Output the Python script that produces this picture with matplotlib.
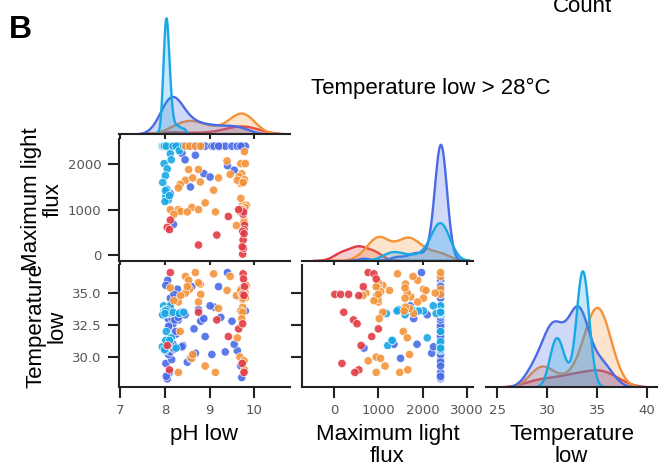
import matplotlib
matplotlib.use("Agg")
import matplotlib.pyplot as plt
import numpy as np
import pandas as pd
import seaborn as sns

# ---- data ----
groups = ["cyan", "blue", "orange", "red"]
colors = ["#1aa8e4", "#4a6be6", "#f4943a", "#e23c45"]

ph_cyan = [8.00, 8.03, 8.05, 7.96, 8.01, 8.04, 8.08, 7.98, 8.02, 8.10, 7.94, 8.01, 8.06,
           8.00, 8.05, 8.02, 7.97, 8.09, 7.99, 8.03, 8.12, 7.98, 8.05, 8.01, 7.95, 8.04,
           8.02, 8.07, 8.01, 8.00, 8.18, 8.25, 8.32, 8.14, 8.42, 8.10]
flux_cyan = [2400, 2400, 2390, 2410, 2400, 2400, 2395, 2405, 2400, 2400, 2400, 2410, 2390,
             2400, 2400, 2405, 2400, 2395, 2400, 2400, 2235, 2015, 1900, 1750, 1600, 1450,
             1300, 1210, 1420, 1180, 2400, 2400, 2300, 2100, 2400, 1310]
temp_cyan = [33.5, 33.4, 33.6, 33.3, 33.7, 33.5, 33.4, 33.6, 33.5, 33.4, 30.8, 30.6, 31.0,
             30.5, 31.2, 33.5, 34.0, 33.5, 30.6, 32.0, 34.0, 33.6, 33.6, 33.7, 33.3, 33.7,
             31.3, 30.9, 33.6, 33.4, 33.5, 30.7, 33.4, 31.5, 33.5, 31.3]

ph_blue = [8.05, 8.10, 8.02, 8.15, 8.08, 8.12, 8.20, 8.06, 8.18, 8.03, 8.25, 8.10, 8.14,
           8.07, 8.22, 8.04, 8.16, 8.30, 8.09, 8.12, 8.28, 8.06, 9.25, 9.35, 9.50, 9.62,
           9.72, 9.80, 8.40, 8.65, 8.90, 9.05, 8.35, 8.50, 8.80, 8.18, 8.02, 9.10, 8.60,
           8.24, 8.68, 8.87, 8.57, 9.01, 8.38, 8.19, 8.05, 8.12, 8.08, 8.20, 8.15, 8.03,
           8.22, 9.40, 9.20, 8.30, 9.55, 9.70, 8.45, 8.75]
flux_blue = [2400, 2400, 2400, 2400, 2400, 2400, 2400, 2400, 2400, 2400, 2400, 2400, 2400,
             2400, 2400, 2400, 2400, 2400, 2400, 2400, 2400, 2400, 2400, 2400, 2400, 2400,
             2400, 2400, 2400, 2400, 2400, 2400, 2400, 2400, 2400, 2400, 2400, 2400, 2400,
             2400, 2200, 1795, 1500, 1720, 2240, 675, 2400, 1350, 2400, 2400, 2400, 2400,
             2400, 1970, 2400, 2400, 1870, 2400, 2100, 2400]
temp_blue = [28.3, 28.8, 29.5, 29.8, 30.2, 30.4, 30.6, 30.8, 31.0, 31.3, 31.8, 32.3, 32.7,
             33.0, 33.2, 33.4, 33.0, 32.9, 34.0, 34.6, 35.3, 36.0, 33.1, 30.4, 32.8, 30.5,
             28.4, 33.6, 30.9, 32.2, 31.6, 30.2, 33.5, 29.6, 32.8, 32.6, 35.6, 33.9, 35.5,
             32.0, 30.3, 33.0, 29.9, 34.0, 30.8, 30.7, 33.6, 31.0, 32.4, 34.9, 33.4, 28.5,
             32.9, 36.6, 35.5, 33.1, 31.0, 29.3, 33.3, 33.7]

ph_orange = [8.46, 8.55, 8.68, 8.80, 9.78, 9.70, 9.39, 9.80, 8.53, 8.75, 9.46, 9.72, 9.66,
             9.20, 8.46, 8.79, 9.74, 9.78, 8.34, 9.82, 9.70, 8.30, 9.09, 9.68, 9.62, 8.60,
             9.75, 8.75, 8.12, 9.74, 8.30, 9.13, 8.35, 9.74, 9.77, 9.77, 8.20, 9.60, 9.79,
             9.72, 9.72, 8.50, 9.75, 8.90, 9.70, 8.62]
flux_orange = [2400, 2400, 2400, 2400, 2280, 2015, 2073, 2015, 1884, 1884, 1780, 1790, 1730,
               1700, 1648, 1611, 1611, 1660, 1560, 1100, 1580, 1480, 1430, 950, 1650, 1050,
               1600, 1000, 1000, 1100, 1000, 950, 960, 990, 770, 720, 900, 650, 1050, 1020,
               1000, 950, 1600, 1150, 1250, 1700]
temp_orange = [36.3, 35.3, 36.6, 34.9, 35.0, 35.3, 35.2, 34.6, 36.0, 34.3, 36.3, 33.4, 34.7,
               33.8, 35.0, 35.7, 33.9, 29.0, 32.0, 35.6, 33.6, 28.8, 36.5, 30.0, 31.5, 29.9,
               35.4, 35.8, 35.4, 33.5, 34.3, 28.8, 34.8, 34.5, 29.7, 35.0, 34.4, 34.8, 35.1,
               33.0, 34.9, 35.5, 34.6, 29.3, 35.2, 30.2]

ph_red = [8.12, 9.75, 9.76, 9.78, 9.74, 9.76, 9.75, 9.77, 8.75, 9.16, 9.65, 9.42, 8.05,
          9.74, 9.73, 8.10, 9.77]
flux_red = [770, 900, 950, 660, 20, 150, 330, 560, 220, 440, 1000, 850, 610, 520, 180, 560, 470]
temp_red = [36.6, 36.5, 36.1, 35.5, 34.9, 34.9, 34.9, 34.8, 33.5, 32.9, 32.2, 31.6, 30.9,
            32.6, 29.5, 29.0, 28.8]

x_ph, x_flux, x_temp = "pH low", "Maximum light flux", "Temperature low"

frames = []
for g, p, f, t in [("blue", ph_blue, flux_blue, temp_blue),
                   ("cyan", ph_cyan, flux_cyan, temp_cyan),
                   ("orange", ph_orange, flux_orange, temp_orange),
                   ("red", ph_red, flux_red, temp_red)]:
    frames.append(pd.DataFrame({x_ph: p, x_flux: f, x_temp: t, "group": g}))
df = pd.concat(frames, ignore_index=True)
pal = dict(zip(groups, colors))

# ---- layout ----
W, H = 663, 466
fig = plt.figure(figsize=(W / 100, H / 100), dpi=100)
col_left = [119, 302, 486]
row_top = [12, 138.5, 265]
aw, ah = 171, 122


def add_ax(r, c):
    return fig.add_axes([col_left[c] / W, 1 - (row_top[r] + ah) / H, aw / W, ah / H])


lab_font = dict(family=["Liberation Sans", "DejaVu Sans"], size=16)
xlims = {x_ph: (6.97, 10.8), x_flux: (-720, 3130), x_temp: (23.9, 41.0)}
ylims = {x_flux: (-121, 2569), x_temp: (27.66, 37.19)}
xticks = {x_ph: [7, 8, 9, 10], x_flux: [0, 1000, 2000, 3000], x_temp: [25, 30, 35, 40]}
yticks = {x_flux: [0, 1000, 2000], x_temp: [30.0, 32.5, 35.0]}


def style(ax):
    for s in ["top", "right"]:
        ax.spines[s].set_visible(False)
    for s in ["left", "bottom"]:
        ax.spines[s].set_linewidth(1.5)
        ax.spines[s].set_color("#222222")
    ax.tick_params(length=8, width=1.5, color="#222222", labelcolor="#555555",
                   labelsize=9.5, pad=4.5)


vars_ = [x_ph, x_flux, x_temp]
for i, v in enumerate(vars_):
    ax = add_ax(i, i)
    sns.kdeplot(data=df, x=v, hue="group", hue_order=groups, palette=pal, fill=True,
                common_norm=True, alpha=0.25, linewidth=1.7, legend=False, ax=ax)
    style(ax)
    ax.spines["left"].set_visible(False)
    ax.set_yticks([])
    ax.set_ylabel("")
    ax.set_xlim(*xlims[v])
    ax.set_xticks(xticks[v])
    if i < 2:
        ax.set_xticklabels([])
        ax.set_xlabel("")
    else:
        ax.set_xlabel("Temperature\nlow", fontdict=lab_font, labelpad=5, linespacing=1.05)

for r, c in [(1, 0), (2, 0), (2, 1)]:
    ax = add_ax(r, c)
    xv, yv = vars_[c], vars_[r]
    sns.scatterplot(data=df, x=xv, y=yv, hue="group", hue_order=groups, palette=pal,
                    s=36, edgecolor="white", linewidth=0.5, alpha=0.9, legend=False, ax=ax)
    style(ax)
    ax.set_xlim(*xlims[xv])
    ax.set_ylim(*ylims[yv])
    ax.set_xticks(xticks[xv])
    ax.set_yticks(yticks[yv])
    if r == 2:
        xl = {x_ph: "pH low", x_flux: "Maximum light\nflux"}[xv]
        ax.set_xlabel(xl, fontdict=lab_font, labelpad=5, linespacing=1.05)
    else:
        ax.set_xticklabels([])
        ax.set_xlabel("")
    if c == 0:
        yl = {x_flux: "Maximum light\nflux", x_temp: "Temperature\nlow"}[yv]
        ax.set_ylabel(yl, fontdict=lab_font, labelpad=3, linespacing=1.05)
        if yv == x_temp:
            ax.set_yticklabels(["30.0", "32.5", "35.0"])
    else:
        ax.set_yticklabels([])
        ax.set_ylabel("")

fig.text(9 / W, 1 - 30 / H, "B", fontsize=23, fontweight="bold",
         family=["Liberation Sans", "DejaVu Sans"], va="center", ha="left")
fig.text(583 / W, 1 - 6 / H, "Count", fontsize=16,
         family=["Liberation Sans", "DejaVu Sans"], va="center", ha="center")
fig.text(431 / W, 1 - 88 / H, "Temperature low > 28°C", fontsize=16,
         family=["Liberation Sans", "DejaVu Sans"], va="center", ha="center")

fig.savefig("out.png", dpi=100)
